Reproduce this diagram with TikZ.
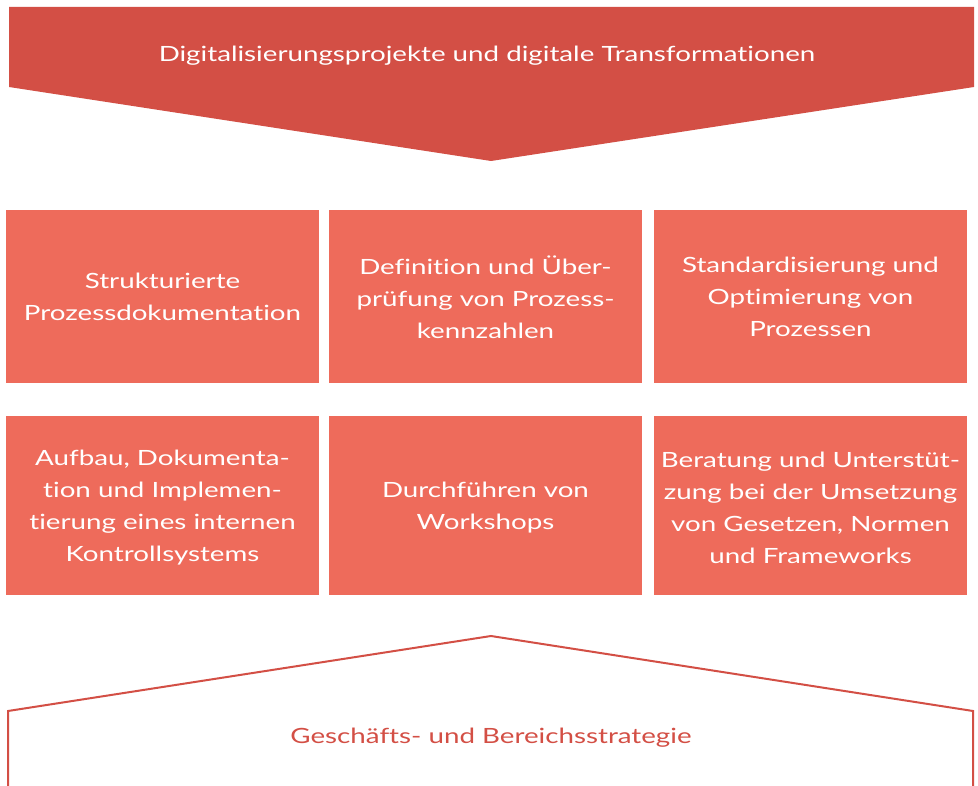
\documentclass[tikz,border=0pt]{standalone}
\usepackage{fontspec}
\setmainfont{Lato}[FakeStretch=1.32, Ligatures=NoCommon]
\definecolor{topred}{HTML}{D34F45}
\definecolor{boxred}{HTML}{EE6B5B}
\tikzset{
  box/.style={fill=boxred, draw=none},
  boxtext/.style={text=white, align=center, font=\fontsize{21}{32}\selectfont, inner sep=0pt},
  label/.style={font=\fontsize{21}{24}\selectfont},
}
\begin{document}
\begin{tikzpicture}[x=1pt,y=-1pt]
\useasboundingbox (0,0) rectangle (978,786);
% top banner
\fill[topred] (9,7) -- (974,7) -- (974,87) -- (491,161) -- (9,87) -- cycle;
\node[label, text=white] (top) at (487,56) {Digitalisierungsprojekte und digitale Transformationen};
% boxes row 1
\fill[box] (6,210) rectangle (319,383);
\fill[box] (329,210) rectangle (642,383);
\fill[box] (654,210) rectangle (967,383);
% boxes row 2
\fill[box] (6,416) rectangle (319,595);
\fill[box] (329,416) rectangle (642,595);
\fill[box] (654,416) rectangle (967,595);
\node[boxtext] (b1) at (162.5,297) {Strukturierte\\Prozessdokumentation};
\node[boxtext] (b2) at (485.5,297) {Definition und Über-\\prüfung von Prozess-\\kennzahlen};
\node[boxtext] (b3) at (810.5,297) {Standardisierung und\\Optimierung von\\Prozessen};
\node[boxtext] (b4) at (162.5,508) {Aufbau, Dokumenta-\\tion und Implemen-\\tierung eines internen\\Kontrollsystems};
\node[boxtext] (b5) at (485.5,508) {Durchführen von\\Workshops};
\node[boxtext] (b6) at (810.5,508) {Beratung und Unterstüt-\\zung bei der Umsetzung\\von Gesetzen, Normen\\und Frameworks};
% bottom roof
\draw[topred, line width=2pt] (8,790) -- (8,711) -- (491,636) -- (973,711) -- (973,790);
\node[label, text=topred] (bottom) at (491,738) {Geschäfts- und Bereichsstrategie};
\end{tikzpicture}
\end{document}
